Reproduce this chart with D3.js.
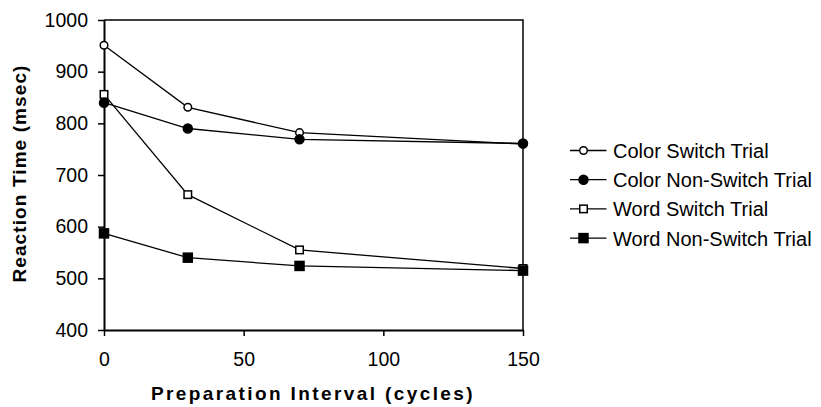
<!DOCTYPE html>
<html>
<head>
<meta charset="utf-8">
<script src="https://cdn.jsdelivr.net/npm/d3@7"></script>
<style>
  body { margin: 0; background: #fff; }
  svg { display: block; font-family: "Liberation Sans", Arial, sans-serif; }
</style>
</head>
<body>
<svg id="chart" width="821" height="407"></svg>
<script>
// preparation interval in cycles
const intervals = [0, 30, 70, 150]
const colorSwitch = [951, 831, 782, 760]
const colorNonSwitch = [840, 790, 769, 761]
const wordSwitch = [856, 662, 555, 519]
const wordNonSwitch = [587, 540, 524, 515]
const seriesNames = ['Color Switch Trial', 'Color Non-Switch Trial', 'Word Switch Trial', 'Word Non-Switch Trial']
const xTicks = [0, 50, 100, 150]
const yTicks = [400, 500, 600, 700, 800, 900, 1000]

const series = [
    { name: seriesNames[0], values: colorSwitch, marker: 'circle', filled: false },
    { name: seriesNames[1], values: colorNonSwitch, marker: 'circle', filled: true },
    { name: seriesNames[2], values: wordSwitch, marker: 'square', filled: false },
    { name: seriesNames[3], values: wordNonSwitch, marker: 'square', filled: true }
]

const svg = d3.select('#chart')
const margin = { left: 104, top: 20, right: 298, bottom: 77 }
const width = 821 - margin.left - margin.right
const height = 407 - margin.top - margin.bottom

const x = d3.scaleLinear().domain([0, 150]).range([0, width])
const y = d3.scaleLinear().domain([400, 1000]).range([height, 0])

const g = svg.append('g').attr('transform', `translate(${margin.left},${margin.top})`)

// frame top + right
g.append('path')
    .attr('d', `M0,0H${width}V${height}`)
    .attr('fill', 'none')
    .attr('stroke', '#000')
    .attr('stroke-width', 1.5)

const xAxis = g.append('g')
    .attr('transform', `translate(0,${height})`)
    .call(d3.axisBottom(x).tickValues(xTicks).tickFormat(d3.format('d'))
        .tickSize(6).tickPadding(16.5).tickSizeOuter(0))
const yAxis = g.append('g')
    .call(d3.axisLeft(y).tickValues(yTicks).tickFormat(d3.format('d'))
        .tickSize(6).tickPadding(10).tickSizeOuter(0))

;[xAxis, yAxis].forEach(ax => {
    ax.attr('font-size', 19.5).attr('font-family', '"Liberation Sans", Arial, sans-serif')
    ax.select('.domain').attr('stroke-width', 2)
    ax.selectAll('.tick line').attr('stroke-width', 1.5)
    ax.selectAll('text').attr('fill', '#000')
})

const line = d3.line()
    .x((d, i) => x(intervals[i]))
    .y(d => y(d))

function drawMarker(sel, s, cx, cy) {
    if (s.marker === 'circle') {
        sel.append('circle')
            .attr('cx', cx).attr('cy', cy)
            .attr('r', s.filled ? 4.5 : 3.8)
            .attr('fill', s.filled ? '#000' : '#fff')
            .attr('stroke', '#000')
            .attr('stroke-width', 1.5)
    } else {
        const size = s.filled ? 9 : 7.5
        sel.append('rect')
            .attr('x', cx - size / 2).attr('y', cy - size / 2)
            .attr('width', size).attr('height', size)
            .attr('fill', s.filled ? '#000' : '#fff')
            .attr('stroke', '#000')
            .attr('stroke-width', 1.5)
    }
}

series.forEach(s => {
    g.append('path')
        .datum(s.values)
        .attr('d', line)
        .attr('fill', 'none')
        .attr('stroke', '#000')
        .attr('stroke-width', 1.3)
})
series.forEach(s => {
    s.values.forEach((v, i) => drawMarker(g, s, x(intervals[i]), y(v)))
})

// legend
const legend = svg.append('g').attr('transform', 'translate(570,150.5)')
series.forEach((s, i) => {
    const row = legend.append('g').attr('transform', `translate(0,${i * 29.2})`)
    row.append('line')
        .attr('x1', 0).attr('x2', 36.5)
        .attr('stroke', '#000').attr('stroke-width', 1.3)
    drawMarker(row, s, 13.5, 0)
    row.append('text')
        .attr('x', 43).attr('y', 7.5)
        .attr('font-size', 20)
        .text(s.name)
})

// axis titles
svg.append('text')
    .attr('x', 313).attr('y', 400)
    .attr('text-anchor', 'middle')
    .attr('font-size', 19).attr('font-weight', 'bold')
    .attr('letter-spacing', 2.4)
    .text('Preparation Interval (cycles)')

svg.append('text')
    .attr('transform', 'translate(26,173.5) rotate(-90)')
    .attr('text-anchor', 'middle')
    .attr('font-size', 19).attr('font-weight', 'bold')
    .attr('letter-spacing', 1.1)
    .text('Reaction Time (msec)')
</script>
</body>
</html>
